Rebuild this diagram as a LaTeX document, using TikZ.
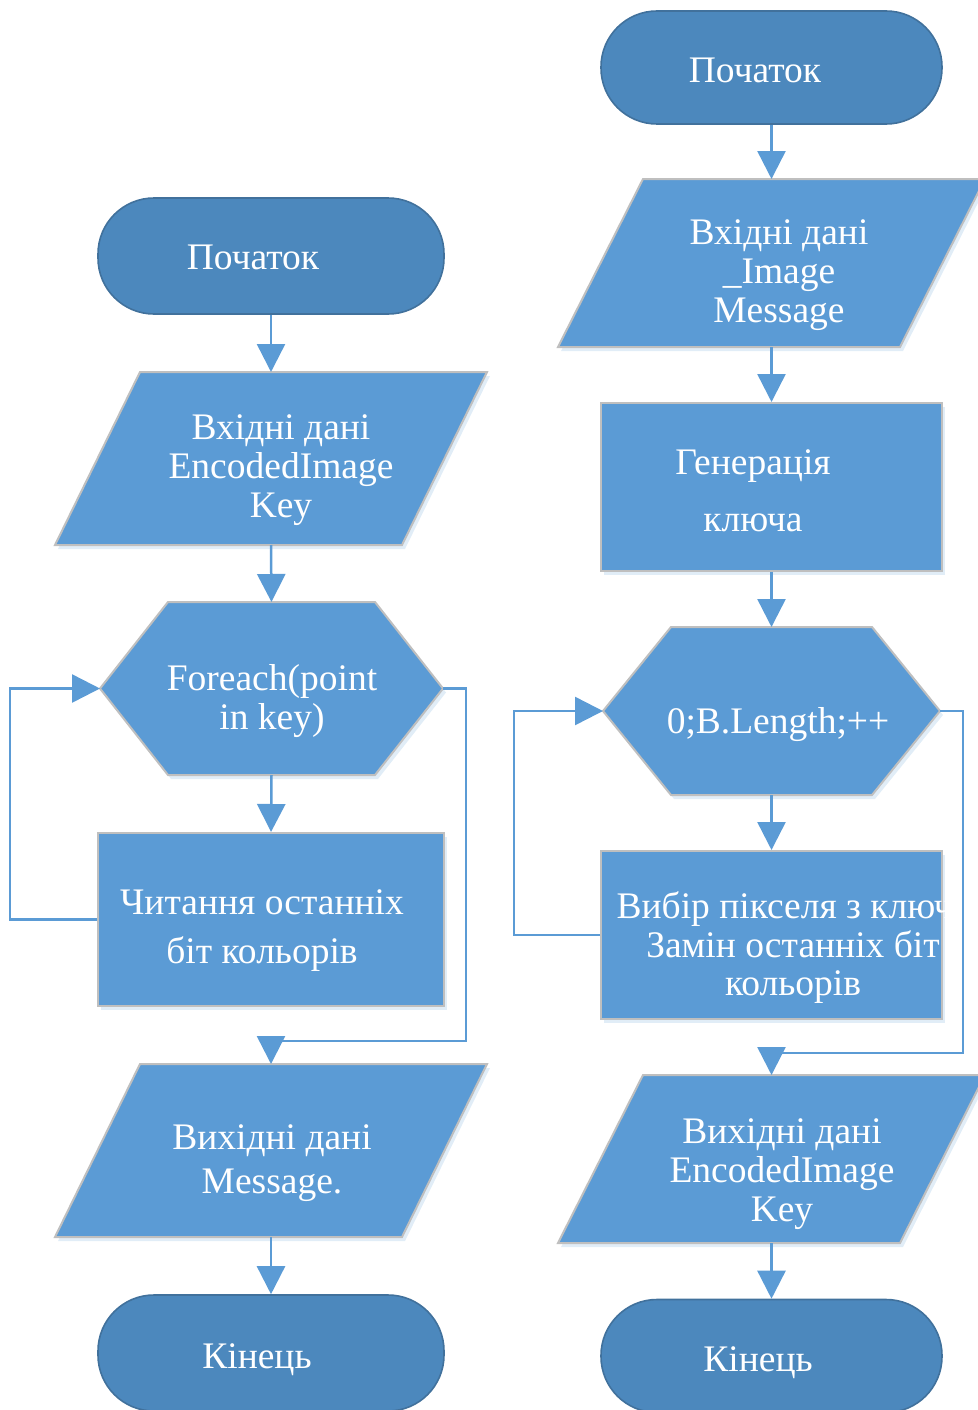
\documentclass[tikz,border=0pt]{standalone}
\usepackage{fontspec}
\setmainfont{Liberation Serif}
\usetikzlibrary{arrows.meta,shadows}
\definecolor{fillblue}{RGB}{91,155,213}
\definecolor{termblue}{RGB}{76,136,189}
\definecolor{termedge}{RGB}{65,113,156}
\definecolor{edgegray}{RGB}{191,191,191}
\definecolor{lineblue}{RGB}{91,155,213}

% outline of a parallelogram spanning the frame node #1, slanted by #2
\newcommand\paragram[2]{%
  \filldraw[blockshape] ([xshift=#2]#1.north west) -- (#1.north east)
    -- ([xshift=-#2]#1.south east) -- (#1.south west) -- cycle;}
% outline of a loop hexagon spanning the frame node #1, corners cut by #2
\newcommand\hexagram[2]{%
  \filldraw[blockshape] (#1.west) -- ([xshift=#2]#1.north west)
    -- ([xshift=-#2]#1.north east) -- (#1.east)
    -- ([xshift=-#2]#1.south east) -- ([xshift=#2]#1.south west) -- cycle;}

\begin{document}
\begin{tikzpicture}[x=1pt,y=-1pt,
  softshadow/.style={drop shadow={shadow xshift=3pt,shadow yshift=-4pt,
      opacity=0.18,fill=lineblue}},
  blockshape/.style={fill=fillblue,draw=edgegray,line width=2pt,softshadow},
  term/.style={rectangle,rounded corners=56pt,fill=termblue,draw=termedge,
      line width=1.6pt,inner sep=0pt},
  procbox/.style={rectangle,blockshape,inner sep=0pt},
  frame/.style={rectangle,inner sep=0pt,outer sep=0pt},
  txt/.style={text=white,align=center,inner sep=0pt,
      font=\fontsize{37.5}{39}\selectfont},
  conn/.style={draw=lineblue,line width=2.5pt,
      -{Triangle[width=28pt,length=28pt]}},
]
\useasboundingbox (0,0) rectangle (977,1410);

% ---------------- decoding flow (left) ----------------
\node[term,minimum width=346pt,minimum height=116pt] (s1) at (271,256) {};
\node[txt] (ts1) at (253,257) {Початок};

\node[frame,minimum width=432pt,minimum height=173pt] (p1) at (271,458.5) {};
\paragram{p1}{85pt}
\node[txt] (tp1) at (281,470) {Вхідні дані\\EncodedImage\\Key};

\node[frame,minimum width=343pt,minimum height=173pt] (h1) at (271.5,688.5) {};
\hexagram{h1}{68pt}
\node[txt] (th1) at (272,701) {Foreach(point\\in key)};

\node[procbox,minimum width=346pt,minimum height=173pt] (b1) at (271,919.5) {};
\node[txt,font=\fontsize{37.5}{49}\selectfont] (tb1) at (262,931)
  {Читання останніх\\біт кольорів};

\node[frame,minimum width=432pt,minimum height=173pt] (p3) at (271,1150.5) {};
\paragram{p3}{85pt}
\node[txt,font=\fontsize{37.5}{44}\selectfont] (tp3) at (272,1163)
  {Вихідні дані\\Message.};

\node[term,minimum width=346pt,minimum height=116pt] (e1) at (271,1353) {};
\node[txt] (te1) at (257,1360) {Кінець};

\coordinate (j1) at (271,1041);
\draw[conn] (s1.south) -- (p1.north);
\draw[conn] (p1.south) -- (h1.north);
\draw[conn] (h1.south) -- (b1.north);
\draw[conn] (b1.west) -- ++(-87,0) |- (h1.west);
\draw[conn] (h1.east) -- ++(23,0) |- (j1) -- (p3.north);
\draw[conn] (p3.south) -- (e1.north);

% ---------------- encoding flow (right) ----------------
\node[term,minimum width=341pt,minimum height=113pt] (s2) at (771.5,67.5) {};
\node[txt] (ts2) at (755,70) {Початок};

\node[frame,minimum width=427pt,minimum height=168pt] (p2) at (771.5,263) {};
\paragram{p2}{85pt}
\node[txt] (tp2) at (779,275) {Вхідні дані\\\_Image\\Message};

\node[procbox,minimum width=341pt,minimum height=168pt] (b2) at (771.5,487) {};
\node[txt,font=\fontsize{37.5}{57}\selectfont] (tb2) at (753,491)
  {Генерація\\ключа};

\node[frame,minimum width=337pt,minimum height=168pt] (h2) at (771.5,711) {};
\hexagram{h2}{68pt}
\node[txt] (th2) at (778,725) {0;B.Length;++};

\node[procbox,minimum width=341pt,minimum height=168pt] (b3) at (771.5,935) {};
\node[txt,font=\fontsize{37.5}{38.5}\selectfont] (tb3) at (793,948)
  {Вибір пікселя з ключа\\Замін останніх біт\\кольорів};

\node[frame,minimum width=427pt,minimum height=168pt] (p4) at (771.5,1159) {};
\paragram{p4}{85pt}
\node[txt] (tp4) at (782,1174) {Вихідні дані\\EncodedImage\\Key};

\node[term,minimum width=341pt,minimum height=113pt] (e2) at (771.5,1356) {};
\node[txt] (te2) at (758,1363) {Кінець};

\coordinate (j2) at (771.5,1053);
\draw[conn] (s2.south) -- (p2.north);
\draw[conn] (p2.south) -- (b2.north);
\draw[conn] (b2.south) -- (h2.north);
\draw[conn] (h2.south) -- (b3.north);
\draw[conn] (b3.west) -- ++(-86,0) |- (h2.west);
\draw[conn] (h2.east) -- ++(23,0) |- (j2) -- (p4.north);
\draw[conn] (p4.south) -- (e2.north);
\end{tikzpicture}
\end{document}
